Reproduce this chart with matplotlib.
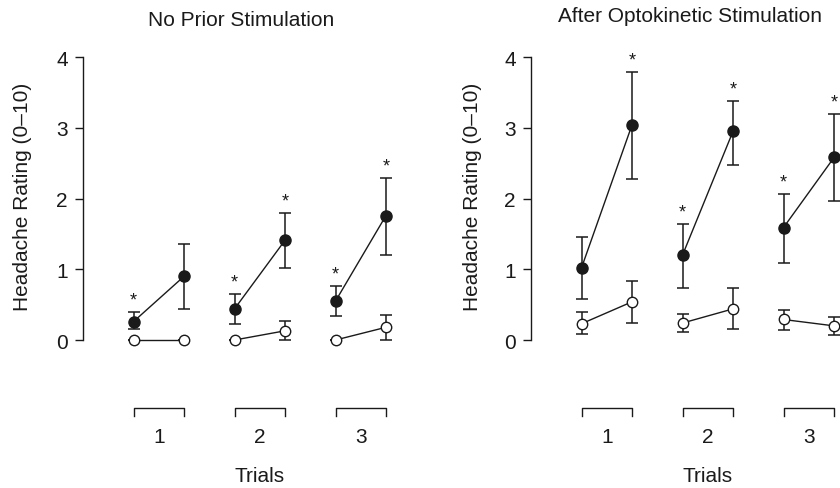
"""
Headache ratings before/after each trial, with and without prior optokinetic stimulation.
Two panels; right panel runs off the right edge of the figure as in the source.
"""

import matplotlib
matplotlib.use("Agg")
import matplotlib.pyplot as plt
import numpy as np

plt.rcParams["font.family"] = ["Liberation Sans", "DejaVu Sans"]

INK = "#1a1a1a"

trials = [1, 2, 3]
trial_labels = ["1", "2", "3"]
panel_titles = ["No Prior Stimulation", "After Optokinetic Stimulation"]

# --- No prior stimulation ---
np_filled_pre = [0.26, 0.44, 0.55]
np_filled_pre_lo = [0.15, 0.22, 0.34]
np_filled_pre_hi = [0.39, 0.65, 0.77]
np_filled_post = [0.90, 1.41, 1.76]
np_filled_post_lo = [0.44, 1.02, 1.20]
np_filled_post_hi = [1.36, 1.80, 2.29]
np_open_pre = [0.0, 0.0, 0.0]
np_open_pre_lo = [0.0, 0.0, 0.0]
np_open_pre_hi = [0.0, 0.0, 0.0]
np_open_post = [0.0, 0.13, 0.18]
np_open_post_lo = [0.0, 0.0, 0.0]
np_open_post_hi = [0.0, 0.27, 0.35]
np_sig_pre = [True, True, True]
np_sig_post = [False, True, True]

# --- After optokinetic stimulation ---
ok_filled_pre = [1.02, 1.20, 1.59]
ok_filled_pre_lo = [0.58, 0.73, 1.09]
ok_filled_pre_hi = [1.45, 1.64, 2.07]
ok_filled_post = [3.04, 2.95, 2.58]
ok_filled_post_lo = [2.27, 2.48, 1.96]
ok_filled_post_hi = [3.79, 3.38, 3.19]
ok_open_pre = [0.23, 0.24, 0.29]
ok_open_pre_lo = [0.08, 0.11, 0.14]
ok_open_pre_hi = [0.40, 0.37, 0.43]
ok_open_post = [0.54, 0.44, 0.20]
ok_open_post_lo = [0.24, 0.15, 0.07]
ok_open_post_hi = [0.84, 0.73, 0.32]
ok_sig_pre = [False, True, True]
ok_sig_post = [True, True, True]

panels = [
    dict(fp=np_filled_pre, fpl=np_filled_pre_lo, fph=np_filled_pre_hi,
         fq=np_filled_post, fql=np_filled_post_lo, fqh=np_filled_post_hi,
         op=np_open_pre, opl=np_open_pre_lo, oph=np_open_pre_hi,
         oq=np_open_post, oql=np_open_post_lo, oqh=np_open_post_hi,
         sp=np_sig_pre, sq=np_sig_post),
    dict(fp=ok_filled_pre, fpl=ok_filled_pre_lo, fph=ok_filled_pre_hi,
         fq=ok_filled_post, fql=ok_filled_post_lo, fqh=ok_filled_post_hi,
         op=ok_open_pre, opl=ok_open_pre_lo, oph=ok_open_pre_hi,
         oq=ok_open_post, oql=ok_open_post_lo, oqh=ok_open_post_hi,
         sp=ok_sig_pre, sq=ok_sig_post),
]

W, H = 840, 489
fig = plt.figure(figsize=(W / 100, H / 100), dpi=100)

XLIM = (0.25, 3.5)
YLIM = (-2.0, 4.3)
ax_w = 0.3908
ax_b, ax_h = 0.0133, 0.9114
lefts = [83 / W, 531 / W]
title_xy = [(241 / W, 1 - 20 / H), (690 / W, 1 - 17 / H)]
ylabel_x = [23 / W, 472 / W]


def draw_errors(ax, x, y, lo, hi):
    y = np.asarray(y)
    err = [y - np.asarray(lo), np.asarray(hi) - y]
    ax.errorbar(x, y, yerr=err, fmt="none", ecolor=INK, elinewidth=1.1,
                capsize=4, capthick=1.1, zorder=2, clip_on=False)


for k, (ax_left, p) in enumerate(zip(lefts, panels)):
    ax = fig.add_axes([ax_left, ax_b, ax_w, ax_h])
    ax.set_xlim(*XLIM)
    ax.set_ylim(*YLIM)
    ax.patch.set_alpha(0)

    t = np.asarray(trials, dtype=float)
    xpre, xpost = t - 0.25, t + 0.25

    # pre -> post connecting segments within each trial
    for y0, y1 in [(p["fp"], p["fq"]), (p["op"], p["oq"])]:
        for i in range(len(trials)):
            ax.plot([xpre[i], xpost[i]], [y0[i], y1[i]], color=INK, lw=1.0,
                    zorder=1, clip_on=False)

    draw_errors(ax, xpre, p["fp"], p["fpl"], p["fph"])
    draw_errors(ax, xpost, p["fq"], p["fql"], p["fqh"])
    draw_errors(ax, xpre, p["op"], p["opl"], p["oph"])
    draw_errors(ax, xpost, p["oq"], p["oql"], p["oqh"])

    ax.plot(xpre, p["fp"], "o", ms=8, mfc=INK, mec=INK, mew=1.0, ls="none", zorder=3, clip_on=False)
    ax.plot(xpost, p["fq"], "o", ms=8, mfc=INK, mec=INK, mew=1.0, ls="none", zorder=3, clip_on=False)
    ax.plot(xpre, p["op"], "o", ms=7.5, mfc="white", mec=INK, mew=1.0, ls="none", zorder=3, clip_on=False)
    ax.plot(xpost, p["oq"], "o", ms=7.5, mfc="white", mec=INK, mew=1.0, ls="none", zorder=3, clip_on=False)

    # significance stars above the filled series' upper error bars
    for xs, hi, sig in [(xpre, p["fph"], p["sp"]), (xpost, p["fqh"], p["sq"])]:
        for i in range(len(trials)):
            if sig[i]:
                ax.text(xs[i], hi[i] + 0.05, "*", ha="center", va="bottom",
                        fontsize=13, color=INK)

    # trial brackets
    for i in range(len(trials)):
        ax.plot([xpre[i], xpre[i], xpost[i], xpost[i]], [-1.08, -0.966, -0.966, -1.08],
                color=INK, lw=1.0, clip_on=False)
        ax.text(t[i], -1.37, trial_labels[i], ha="center", va="center",
                fontsize=15, color=INK)
    ax.text(np.mean(t), -1.92, "Trials", ha="center", va="center",
            fontsize=15, color=INK)

    for side in ["top", "right", "bottom"]:
        ax.spines[side].set_visible(False)
    ax.spines["left"].set_bounds(0, 4)
    ax.spines["left"].set_color(INK)
    ax.spines["left"].set_linewidth(1.0)
    ax.set_xticks([])
    ax.set_yticks([0, 1, 2, 3, 4])
    ax.tick_params(axis="y", length=6, width=1.0, color=INK, labelcolor=INK,
                   labelsize=15, pad=5)

    fig.text(ylabel_x[k], 1 - 197 / H, "Headache Rating (0\u201310)", rotation=90,
             ha="center", va="center", fontsize=15, color=INK)
    fig.text(title_xy[k][0], title_xy[k][1], panel_titles[k], ha="center",
             va="center", fontsize=15, color=INK)

fig.savefig("out.png", dpi=100)
